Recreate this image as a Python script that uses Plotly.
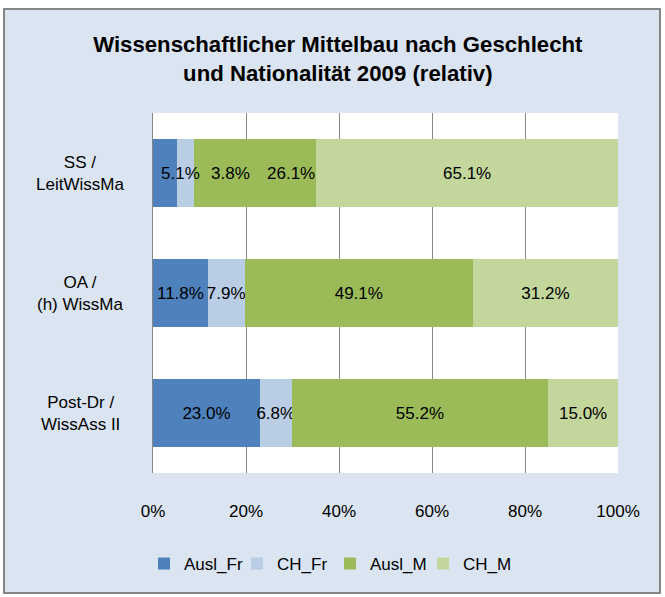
import plotly.graph_objects as go

# Categories (top to bottom) and series shares in percent
categories = ["SS /<br>LeitWissMa", "OA /<br>(h) WissMa", "Post-Dr /<br>WissAss II"]
series_names = ["Ausl_Fr", "CH_Fr", "Ausl_M", "CH_M"]
ausl_fr = [5.1, 11.8, 23.0]
ch_fr = [3.8, 7.9, 6.8]
ausl_m = [26.1, 49.1, 55.2]
ch_m = [65.1, 31.2, 15.0]
tick_vals = [0, 20, 40, 60, 80, 100]
tick_text = ["0%", "20%", "40%", "60%", "80%", "100%"]

colors = ["#4f81bd", "#b9cde5", "#9bbb59", "#c3d69b"]
series_values = [ausl_fr, ch_fr, ausl_m, ch_m]

FONT = "Liberation Sans, Arial, sans-serif"
LABEL_SIZE = 17

# Plot-area geometry in pixels (used for the frame and label placement)
W, H = 665, 597
L, R, T, B = 153, 47, 113, 124
PW, PH = W - L - R, H - T - B


def px_x(x):
    return (x - L) / PW


def px_y(y):
    return (H - B - y) / PH


# Labels of the narrow top-row segments are nudged right so they don't collide
top_row_shift = [16, 45, 36, 0]

fig = go.Figure()
starts = [0.0] * len(categories)
annotations = []
for i, (name, vals, col) in enumerate(zip(series_names, series_values, colors)):
    texts = []
    for j, v in enumerate(vals):
        label = f"{v:.1f}%"
        if j == 0 and top_row_shift[i] != 0:
            texts.append("")
            annotations.append(dict(
                x=starts[j] + v / 2, y=categories[j], xref="x", yref="y",
                text=label, showarrow=False, xshift=top_row_shift[i],
                font=dict(family=FONT, size=LABEL_SIZE, color="#000000"),
            ))
        else:
            texts.append(label)
        starts[j] += v
    fig.add_trace(go.Bar(
        name=name, y=categories, x=vals, orientation="h",
        marker=dict(color=col, line=dict(width=0)),
        text=texts, textposition="inside", insidetextanchor="middle",
        textangle=0, constraintext="none",
        textfont=dict(family=FONT, size=LABEL_SIZE, color="#000000"),
    ))

# Category labels, centred in the left margin
for c in categories:
    annotations.append(dict(
        x=px_x(80), y=c, xref="paper", yref="y", text=c, showarrow=False,
        xanchor="center", yanchor="middle", align="center",
        font=dict(family=FONT, size=LABEL_SIZE, color="#000000"),
    ))

fig.update_layout(
    width=W, height=H,
    margin=dict(l=L, r=R, t=T, b=B),
    barmode="stack", bargap=0.433,
    paper_bgcolor="#ffffff", plot_bgcolor="#ffffff",
    title=dict(
        text="Wissenschaftlicher Mittelbau nach Geschlecht<br>und Nationalität 2009 (relativ)",
        x=0.508, xanchor="center", xref="container",
        y=0.913, yanchor="top", yref="container",
        font=dict(family=FONT, size=22.2, color="#000000", weight="bold"),
    ),
    xaxis=dict(
        range=[0, 100], tickvals=tick_vals, ticktext=tick_text,
        showgrid=True, gridcolor="#868686", gridwidth=1.3,
        zeroline=False, showline=False, ticks="",
        ticklabelstandoff=26,
        tickfont=dict(family=FONT, size=LABEL_SIZE, color="#000000"),
        fixedrange=True,
    ),
    yaxis=dict(
        categoryorder="array", categoryarray=categories,
        autorange="reversed", showticklabels=False, ticks="",
        showline=True, linecolor="#868686", linewidth=1.3,
        showgrid=False, zeroline=False,
    ),
    legend=dict(
        orientation="h", x=px_x(330), xanchor="center",
        y=px_y(564), yanchor="middle",
        font=dict(family=FONT, size=LABEL_SIZE, color="#000000"),
        bgcolor="rgba(0,0,0,0)", itemwidth=30, traceorder="normal",
        entrywidth=48, entrywidthmode="pixels",
    ),
    uniformtext=dict(minsize=LABEL_SIZE, mode="show"),
    annotations=annotations,
    shapes=[
        # light blue chart frame
        dict(
            type="rect", xref="paper", yref="paper",
            x0=px_x(4), x1=px_x(660), y0=px_y(593), y1=px_y(9),
            fillcolor="#dbe5f1", line=dict(color="#868686", width=2),
            layer="below",
        ),
        # white plotting area
        dict(
            type="rect", xref="paper", yref="paper",
            x0=0, x1=1, y0=0, y1=1,
            fillcolor="#ffffff", line=dict(width=0),
            layer="below",
        ),
    ],
    showlegend=True,
)

fig.write_html("out.html")
